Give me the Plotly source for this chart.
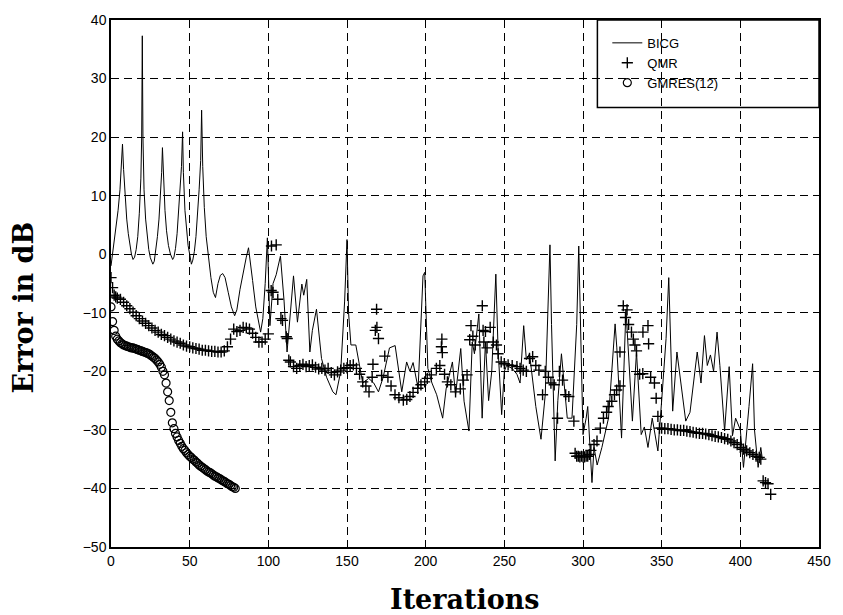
import plotly.graph_objects as go

# ---------------- data ----------------
bicg_iter = [0, 1.5, 3, 4.5, 5.7, 6.6, 7.3, 8, 9, 10, 11, 12, 13, 14, 15,
             16, 17, 18, 19, 19.5, 19.9, 20.3, 21, 22, 23, 24, 25, 26.6, 27.5,
             28.5, 29.5, 30.5, 31.5, 32.2, 32.7, 33.3, 34.3, 35.3, 36.5, 37.8, 39.2, 40,
             41, 42, 43, 44, 44.8, 45.5, 46, 47, 48, 49, 50, 51.1, 52,
             53, 54, 55, 56, 57, 57.6, 58.3, 59.3, 60.5, 62, 63.5, 65, 66.4,
             68, 69.5, 71, 72.5, 74.5, 76.5, 78.6, 80, 82, 84, 86, 87.4, 88.5, 90, 92, 94, 95.1, 96.5, 98,
             99.4, 101, 103, 105, 107.7, 110,
             111.9, 114, 116, 118.5, 121.3, 122.5, 124.4, 126.4, 128, 130.6, 133.8, 137, 141, 143, 146, 148.5,
             150, 151, 152.5, 155.6, 158, 160, 163.8, 167, 170, 173, 177, 180.6, 184.8, 187.9, 190, 192, 195.2,
             197, 198.3, 199.4, 201.4, 204, 207, 210.8, 213, 217, 219, 222.3, 224.4, 227.5, 229.6, 231, 233.8,
             235.9, 238, 240, 242, 244.6, 246, 248.3, 250, 251.4, 255, 258, 260, 262.3, 264, 266, 268, 270,
             273.3, 276, 279, 280, 282.3, 284, 286.3, 288, 290, 293, 296, 297.3, 299, 300, 302, 303, 305.7,
             307, 309, 312, 316.2, 320.4, 321.5, 324.5, 327.3, 328.5, 331.4, 334, 337, 339, 341.3, 344, 347.6,
             350, 352.8, 354.5, 356, 357, 359.7, 362, 365.3, 368, 372.6, 375, 377.2, 379, 381, 383, 385.2, 387,
             390, 392.9, 395, 397, 400, 402, 404, 405.5, 407.8, 409, 411.3, 413, 414]
bicg_db = [-2, 1, 4, 7.5, 11, 14.5, 18.8, 14.5, 9.5, 6, 3.5, 1.5, 0, -0.9, -0.5,
           0.8, 3, 7, 13, 20, 37.3, 20, 11, 6, 3, 0.8, -0.6, -1.7, -1.2,
           0.5, 3, 6, 10, 14, 18.2, 13, 7.5, 4, 1.5, 0, -0.9, -0.5,
           1, 3.5, 7, 11, 15, 20.9, 14, 7.5, 4, 1.5, 0, -1.7, -1,
           0.5, 3, 6.5, 11, 16, 24.6, 15, 8, 3, -1, -4, -6.5, -7.4,
           -5, -3.6, -3.3, -4, -6.5, -9, -10.5, -9.5, -6, -3, -0.5, 1.1, -1, -4.5, -9, -12, -13.3, -11, -5,
           2.8, -12.2, -5, -3.5, -0.3, -8,
           -16.7, -10, -3.7, -11.6, -5.1, -7, -4.3, -16.7, -13, -9.4, -17.8, -21, -23.5, -24, -20, -8,
           2.5, -10, -15.5, -15.5, -19, -22, -21.2, -22, -23.5, -21, -16, -15.6, -23.5, -18.4, -20, -18.5, -22.9,
           -12, -3.7, -3.1, -19.5, -22, -24, -28, -23, -18.4, -24, -16.1, -25.1, -30.2, -15, -17, -10.2,
           -28, -15, -25, -20, -3.4, -16, -27.4, -20, -19, -19.5, -20.5, -22, -12.2, -18, -17, -22, -26,
           -31.6, -24, 1.6, -12, -35.3, -25, -17, -22, -28, -28, -12, 1.4, -20, -30.8, -28, -26, -39,
           -33, -36, -33, -28, -11.9, -16, -31.4, -9.4, -15, -28.5, -16.7, -30.8, -29.5, -33, -28, -33.6,
           -25, -14.4, -4, -18, -26.8, -16.7, -22, -28.5, -27, -16.7, -22, -13.9, -19, -17.2, -20, -13.3, -19,
           -30.2, -19.2, -31, -28, -30, -36.4, -31, -26, -18.7, -30, -36.4, -33, -35]

qmr_iter = [0, 1, 2, 3, 4, 6, 8, 10, 12, 14, 16, 18, 20, 22, 24, 26, 28, 30, 32, 34, 36, 38, 40, 42, 44, 46,
            48, 50, 52, 54, 56, 58, 60, 62, 64, 66, 68, 70, 72, 74, 76, 78, 80, 82, 84, 86, 88, 90, 92, 94,
            96, 98, 100,
            102, 105, 103, 106, 101.8, 108, 109, 111.4, 112, 113, 114, 116,
            118, 120, 122, 124, 126, 128, 130, 132, 134, 136, 138, 140, 142, 144, 146, 148, 150,
            152, 154, 156, 158, 160, 162, 164, 166,
            168.8, 169, 168, 170, 174, 166.5, 172, 176, 178, 180.5, 183, 185.8, 188, 190, 192, 195, 197, 199.4,
            201, 203.6, 206.8, 210.3, 210, 210.6, 209, 212, 213.8, 216, 219, 222, 224, 226.3, 228.8, 228, 230,
            231.5, 236, 236.5, 238, 237, 239, 241, 243, 245, 246, 248, 250, 252.4, 255, 258, 260, 262, 264,
            266, 268, 270, 272, 274.3, 276, 278, 279.6, 281.7, 283.8, 285, 287, 289, 291, 294.2,
            295, 296, 297, 298, 299, 300, 301, 302, 303, 304, 305, 307, 308.9, 311, 313, 315, 316, 318.3, 320,
            321.4, 323.5, 323.5, 325.6, 327, 328, 329, 330.8, 332, 333, 334, 336, 338, 338.1, 341.3, 341.7,
            343, 345.4, 346.5, 347.6, 348.6,
            350, 352, 354, 356, 358, 360, 362, 364, 366, 368, 370, 372, 374, 376, 378, 380, 382, 384, 386,
            388, 390, 392, 394, 396, 398, 400, 402, 404, 406, 408, 410, 412, 413,
            414.5, 416, 417.6, 419.3]
qmr_db = [-4, -5.7, -7, -7.3, -7.5, -7.7, -8.2, -8.8, -9.3, -9.9, -10.5, -11, -11.4, -11.8, -12.2, -12.6,
          -13, -13.3, -13.7, -13.9, -14.2, -14.5, -14.8, -15, -15.2, -15.5, -15.7, -15.8, -16, -16.1, -16.2,
          -16.4, -16.4, -16.5, -16.6, -16.6, -16.7, -16.7, -16.5, -15.8, -14.5, -12.8, -13.2, -13, -12.5,
          -12.6, -12.8, -13.5, -14.2, -15, -15, -14.5, -13.6,
          1.4, 1.6, -6.5, -7.7, -6.2, -11, -11.3, -14.1, -14.4, -18.1, -18.4, -19.2,
          -19.5, -19, -18.8, -19.2, -19, -18.9, -19.3, -19.6, -19.5, -19.8, -19.5, -20.2, -20.6, -20.1,
          -19.8, -19.5, -19.4,
          -19, -18.9, -19.5, -20.5, -21.8, -22.5, -23.5, -21,
          -9.4, -12.5, -13, -14.4, -17.4, -18.8, -20.7, -21, -22.5, -24, -24.5, -24.9, -24.8, -24.3, -23.6,
          -22.9, -22.3, -21.8,
          -21.2, -20.6, -19.5, -14.5, -15.8, -16.8, -19, -20.5, -21.8, -22.3, -23.5, -23, -21.5, -20.6,
          -12.2, -14.6, -14,
          -15.5, -8.8, -13, -13.2, -15, -16, -12.5, -15, -15.5, -17, -18.4, -18.7, -18.9, -19, -19.2, -19.5,
          -19.8, -20,
          -17.8, -17.5, -19, -19.8, -24, -20, -21, -22, -22.3, -28, -20, -21.5, -24, -24.3, -28.5,
          -34, -34.5, -34.5, -34.6, -34.5, -34.6, -34.6, -34.5, -34.5, -34.2, -33.5, -32.5, -31.9, -29.7,
          -28, -27, -26, -25.1, -24,
          -23.2, -22.5, -16.7, -8.8, -10.8, -9.5, -12, -13.3, -14.5, -15.5, -16.5, -20.5, -20.4, -13.3,
          -12.2, -15.3,
          -21, -22, -24.6, -27.7, -29.7,
          -29.7, -29.8, -29.8, -29.9, -30, -30, -30.1, -30.1, -30.2, -30.3, -30.4, -30.5, -30.6, -30.6,
          -30.7, -30.8, -31, -31.1, -31.2, -31.3, -31.5, -31.6, -31.9, -32.2, -32.5, -33, -33.3, -33.6,
          -33.9, -34.2, -34.5, -34.7, -35,
          -38.7, -39, -39.2, -41]

gmres_iter = list(range(0, 80))
gmres_db = [-9, -11.5, -13, -14, -14.5, -14.8, -15.1, -15.3, -15.5, -15.6, -15.7, -15.8, -15.9, -16, -16,
            -16.1, -16.2, -16.3, -16.4, -16.5, -16.6, -16.7, -16.8, -16.9, -17, -17.2, -17.4, -17.6, -17.8,
            -18.1, -18.4, -18.8, -19.3, -20, -20.6, -22, -23.5, -25, -27, -28.8, -29.8, -30.6, -31.2, -31.8,
            -32.3, -32.8, -33.2, -33.5, -33.9, -34.2, -34.5, -34.7, -35, -35.2, -35.5, -35.7, -36, -36.2,
            -36.4, -36.6, -36.8, -37, -37.2, -37.3, -37.5, -37.7, -37.9, -38, -38.2, -38.3, -38.5, -38.7,
            -38.8, -39, -39.2, -39.3, -39.5, -39.7, -39.8, -40]

x_ticks = [0, 50, 100, 150, 200, 250, 300, 350, 400, 450]
y_ticks = [-50, -40, -30, -20, -10, 0, 10, 20, 30, 40]
x_title = "Iterations"
y_title = "Error in dB"

# ---------------- figure ----------------
fig = go.Figure()
fig.add_trace(go.Scatter(x=bicg_iter, y=bicg_db, mode="lines", name="BICG",
                         line=dict(color="black", width=1)))
fig.add_trace(go.Scatter(x=qmr_iter, y=qmr_db, mode="markers", name="QMR",
                         marker=dict(symbol="cross-thin", size=8, color="black",
                                     line=dict(color="black", width=1.4))))
fig.add_trace(go.Scatter(x=gmres_iter, y=gmres_db, mode="markers", name="GMRES(12)",
                         marker=dict(symbol="circle-open", size=8, color="black",
                                     line=dict(color="black", width=1.2))))

axis_common = dict(showline=True, linecolor="black", linewidth=1.5, mirror="ticks",
                   ticks="inside", ticklen=5, tickcolor="black",
                   showgrid=True, gridcolor="black", gridwidth=1, griddash="8px,5px",
                   zeroline=False, tickfont=dict(family="Liberation Sans, Arial", size=14, color="black"))

fig.update_xaxes(range=[0, 450], tickvals=x_ticks, **axis_common)
fig.update_yaxes(range=[-50, 40], tickvals=y_ticks, **axis_common)

title_font = dict(family="DejaVu Serif", size=27, color="black")
fig.add_annotation(text="<b>" + x_title + "</b>", xref="paper", yref="paper", x=0.5, y=-0.0996,
                   xanchor="center", yanchor="middle", showarrow=False, font=title_font)
fig.add_annotation(text="<b>" + y_title + "</b>", xref="paper", yref="paper", x=-0.124, y=0.455,
                   xanchor="center", yanchor="middle", showarrow=False, textangle=-90, font=title_font)

# legend box outline (transparent, grid visible through it)
fig.add_shape(type="rect", xref="paper", yref="paper", x0=0.687, x1=1.0, y0=0.834, y1=1.0,
              line=dict(color="black", width=1.5), fillcolor="rgba(0,0,0,0)", layer="above")

fig.update_layout(
    width=843, height=615,
    margin=dict(l=111, r=16, t=15, b=68),
    paper_bgcolor="white", plot_bgcolor="white",
    showlegend=True,
    legend=dict(x=0.701, y=0.985, xanchor="left", yanchor="top",
                bgcolor="rgba(0,0,0,0)", borderwidth=0,
                font=dict(family="Liberation Sans, Arial", size=13, color="black"),
                tracegroupgap=0),
)

fig.write_html("out.html")
